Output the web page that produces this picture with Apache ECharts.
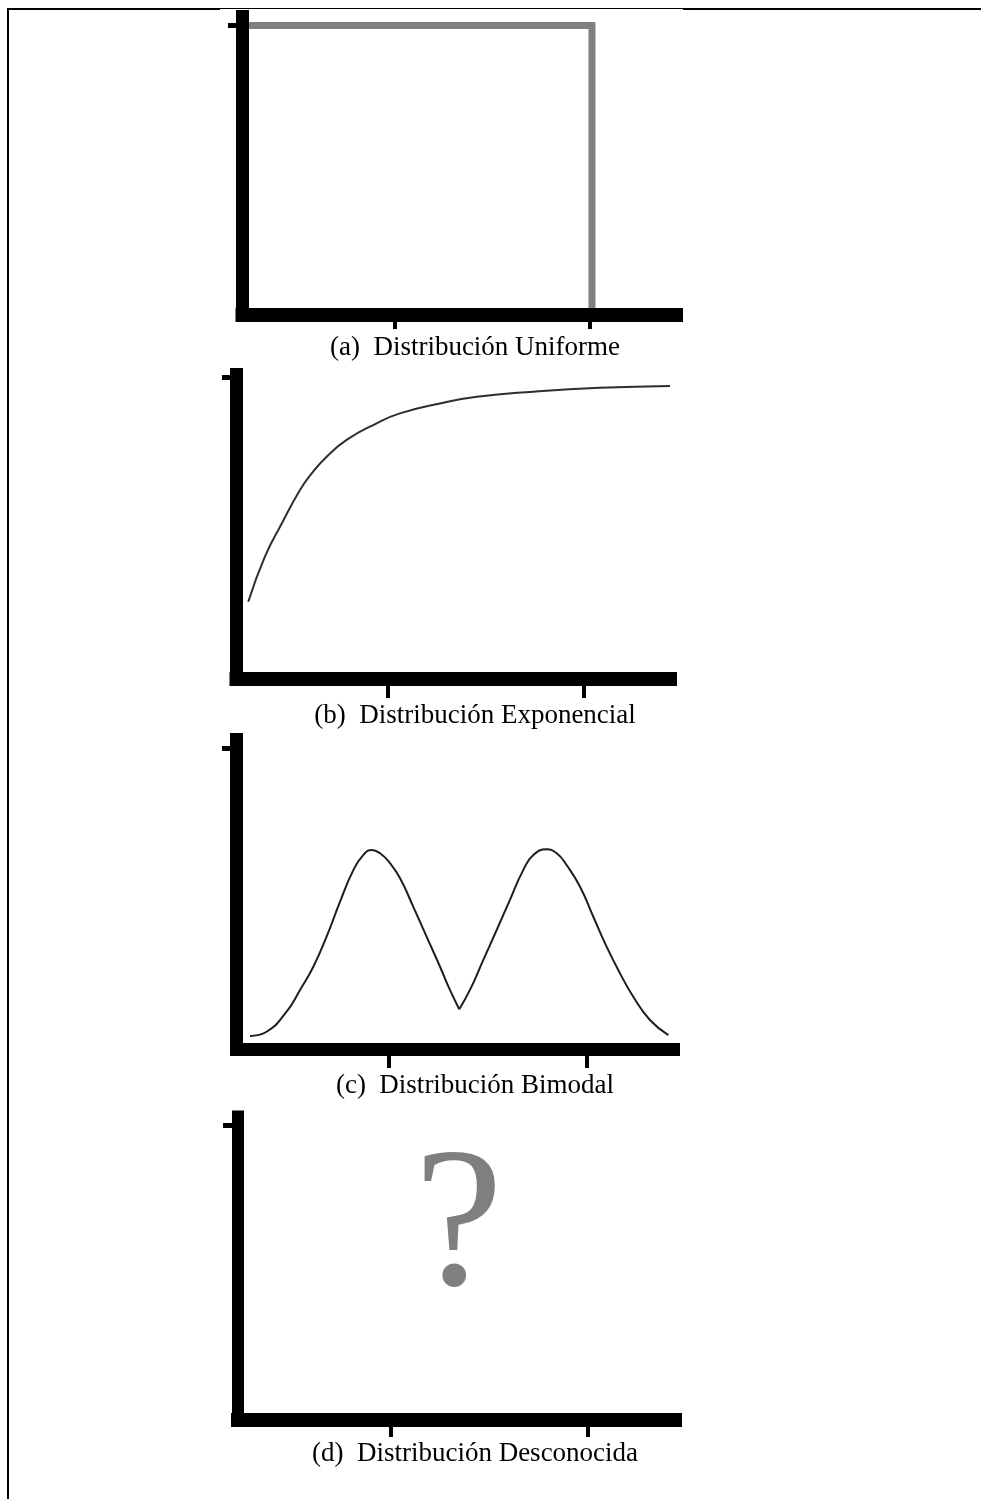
<!DOCTYPE html>
<html>
<head>
<meta charset="utf-8">
<title>Distribuciones</title>
<script src="https://cdn.jsdelivr.net/npm/echarts@6/dist/echarts.min.js"></script>
<style>
  html, body { margin: 0; padding: 0; background: #ffffff; }
  #chart { width: 981px; height: 1499px; }
</style>
</head>
<body>
<div id="chart"></div>
<script>
// Panel captions
const captions = [
  '(a)  Distribución Uniforme',
  '(b)  Distribución Exponencial',
  '(c)  Distribución Bimodal',
  '(d)  Distribución Desconocida'
];

// Tick positions shared by every panel
const xTickValues = [1, 2];
const yTickValues = [1];

// Axis ranges per panel (a, b, c, d)
const xMins = [0.218, 0.227, 0.230, 0.223];
const xMaxs = [2.441, 2.439, 2.437, 2.442];
const yMaxs = [1.031, 1.010, 1.030, 1.031];

// (a) uniform density: flat top, then a drop to zero
const uniformX = [0.218, 2.01, 2.01];
const uniformY = [1, 1, 0];

// (b) exponential curve rising towards its plateau
const expX = [0.287, 0.372, 0.458, 0.551, 0.611, 0.687, 0.789, 0.942, 1.061, 1.265, 1.453, 1.741, 2.082, 2.439];
const expY = [0.256, 0.406, 0.516, 0.627, 0.682, 0.737, 0.793, 0.848, 0.881, 0.914, 0.936, 0.953, 0.966, 0.972];

// (c) bimodal curve, left hump then right hump meeting at the valley
const bimodLeftX = [0.298, 0.382, 0.483, 0.551, 0.618, 0.685, 0.753, 0.820, 0.870, 0.913, 0.955, 1.005, 1.056, 1.123, 1.190, 1.258, 1.308, 1.355];
const bimodLeftY = [0.045, 0.059, 0.126, 0.198, 0.275, 0.375, 0.491, 0.596, 0.646, 0.663, 0.652, 0.619, 0.569, 0.474, 0.375, 0.275, 0.198, 0.134];
const bimodRightX = [1.355, 1.409, 1.476, 1.544, 1.611, 1.678, 1.729, 1.796, 1.847, 1.897, 1.965, 2.032, 2.099, 2.167, 2.234, 2.318, 2.411];
const bimodRightY = [0.134, 0.198, 0.297, 0.397, 0.497, 0.596, 0.646, 0.665, 0.652, 0.613, 0.541, 0.441, 0.342, 0.253, 0.175, 0.098, 0.048];

// (d) unknown distribution marker
const unknownPoint = [1.343, 0.64];
const unknownText = '?';

const zip = (xs, ys) => xs.map((x, i) => [x, ys[i]]);

// Grid boxes (axis line centres) and axis styling per panel
const grids = [
  { left: 242.5, top: 16.5, width: 433.5, height: 298.5 },
  { left: 236.5, top: 374.5, width: 433.5, height: 304.5 },
  { left: 236.5, top: 739.5, width: 437, height: 310 },
  { left: 238, top: 1116.5, width: 437, height: 303.5 }
];
const yLineW = [13, 13, 13, 12];
const xLineW = [14, 14, 13, 14];
const yTickLen = [14.5, 14.5, 14.5, 15];
const xTickLen = [14, 19, 18.5, 17];
const captionY = [348, 716, 1086, 1454];

const xAxes = grids.map((g, i) => ({
  type: 'value', gridIndex: i, min: xMins[i], max: xMaxs[i], z: 5,
  axisLine: { show: true, onZero: false, lineStyle: { color: '#000', width: xLineW[i], cap: 'square' } },
  axisTick: { show: true, inside: false, length: xTickLen[i], customValues: xTickValues,
              lineStyle: { color: '#000', width: 4 } },
  axisLabel: { show: false },
  splitLine: { show: false }
}));
const yAxes = grids.map((g, i) => ({
  type: 'value', gridIndex: i, min: 0, max: yMaxs[i], z: 5,
  axisLine: { show: true, onZero: false, lineStyle: { color: '#000', width: yLineW[i], cap: 'square' } },
  axisTick: { show: true, inside: false, length: yTickLen[i], customValues: yTickValues,
              lineStyle: { color: '#000', width: 5 } },
  axisLabel: { show: false },
  splitLine: { show: false }
}));

const serif = '"Liberation Serif", "Times New Roman", serif';

const series = [
  {
    type: 'line', xAxisIndex: 0, yAxisIndex: 0, symbol: 'none', silent: true,
    data: zip(uniformX, uniformY),
    lineStyle: { color: '#808080', width: 7, cap: 'round', join: 'miter' }
  },
  {
    type: 'line', xAxisIndex: 1, yAxisIndex: 1, symbol: 'none', silent: true,
    smooth: 0.5, data: zip(expX, expY),
    lineStyle: { color: '#2e2e2e', width: 2 }
  },
  {
    type: 'line', xAxisIndex: 2, yAxisIndex: 2, symbol: 'none', silent: true,
    smooth: 0.5, data: zip(bimodLeftX, bimodLeftY),
    lineStyle: { color: '#1e1e1e', width: 2 }
  },
  {
    type: 'line', xAxisIndex: 2, yAxisIndex: 2, symbol: 'none', silent: true,
    smooth: 0.5, data: zip(bimodRightX, bimodRightY),
    lineStyle: { color: '#1e1e1e', width: 2 }
  },
  {
    type: 'scatter', xAxisIndex: 3, yAxisIndex: 3, symbolSize: 1, silent: true,
    itemStyle: { color: 'rgba(0,0,0,0)' },
    data: [unknownPoint],
    label: {
      show: true, position: 'inside', formatter: unknownText,
      fontFamily: 'Liberation Serif', fontWeight: 'normal', fontSize: 200,
      color: '#7f7f7f', opacity: 1,
      align: 'center', verticalAlign: 'middle'
    }
  }
];

// Frame lines and captions
const graphics = [
  { type: 'line', shape: { x1: 8, y1: 8, x2: 8, y2: 1499 }, style: { stroke: '#000', lineWidth: 2 }, silent: true },
  { type: 'line', shape: { x1: 7, y1: 9, x2: 220, y2: 9 }, style: { stroke: '#000', lineWidth: 2 }, silent: true },
  { type: 'line', shape: { x1: 220, y1: 8.5, x2: 683, y2: 8.5 }, style: { stroke: '#000', lineWidth: 1 }, silent: true },
  { type: 'line', shape: { x1: 683, y1: 9, x2: 981, y2: 9 }, style: { stroke: '#000', lineWidth: 2 }, silent: true }
].concat(captions.map((t, i) => ({
  type: 'text', silent: true,
  style: {
    text: t, x: 475, y: captionY[i],
    font: '27px ' + serif, fill: '#000',
    textAlign: 'center', textVerticalAlign: 'middle',
    align: 'center', verticalAlign: 'middle'
  }
})));

const chart = echarts.init(document.getElementById('chart'), null, { renderer: 'canvas' });
chart.setOption({
  backgroundColor: '#ffffff',
  animation: false,
  grid: grids.map(g => Object.assign({ containLabel: false, outerBoundsMode: 'none' }, g)),
  xAxis: xAxes,
  yAxis: yAxes,
  series: series,
  graphic: { elements: graphics }
});
</script>
</body>
</html>
